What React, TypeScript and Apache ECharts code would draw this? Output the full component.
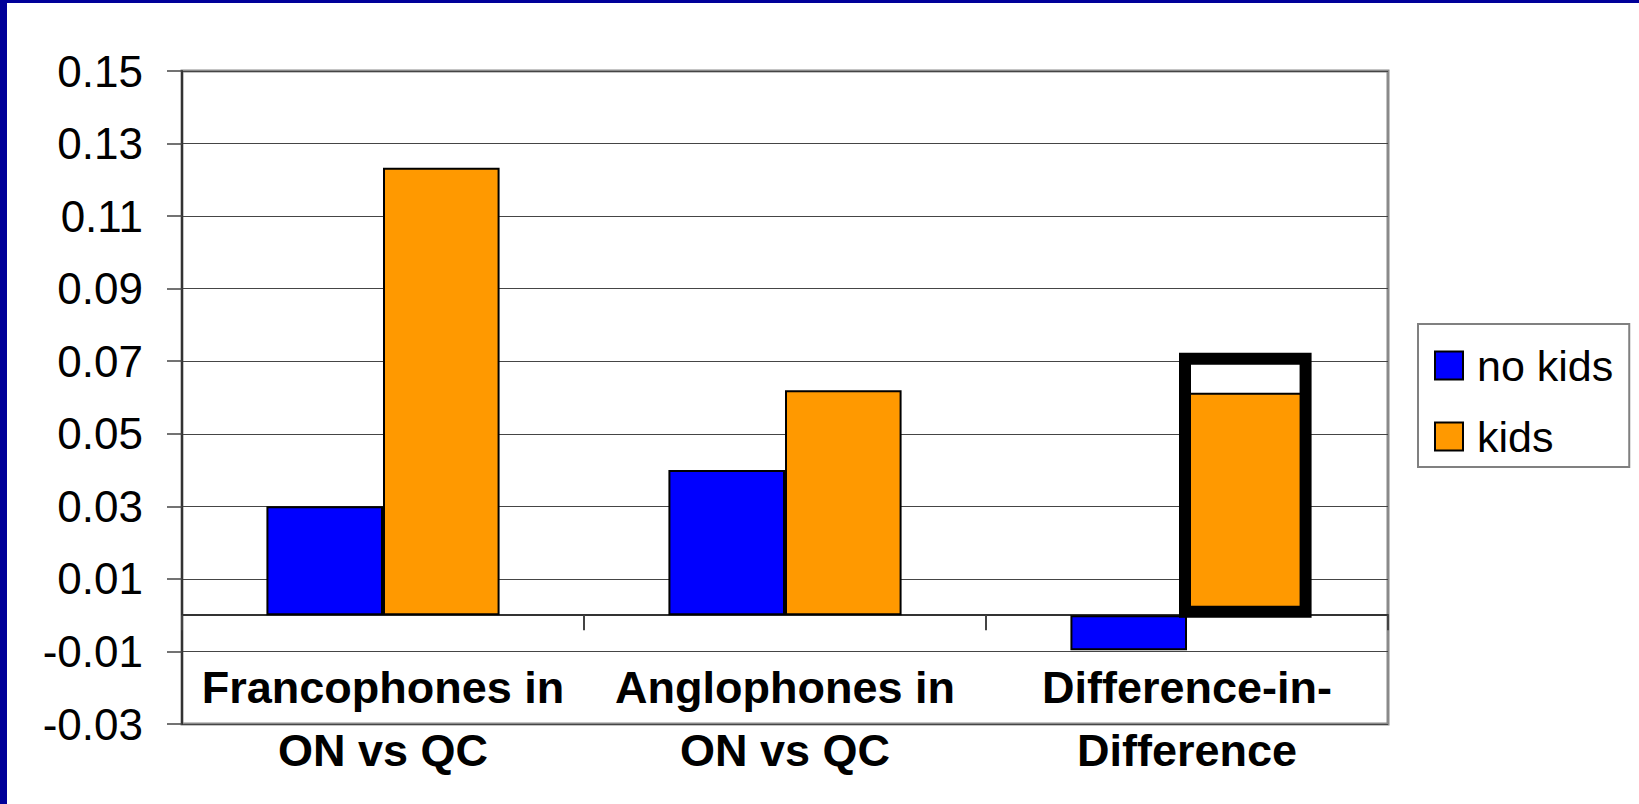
import React, { useEffect, useRef } from "react";
import * as echarts from "echarts";

const categories = ["Francophones in\nON vs QC", "Anglophones in\nON vs QC", "Difference-in-\nDifference"];
const seriesNames = ["no kids", "kids"];
const noKids = [0.03, 0.04, -0.0097];
const kids = [0.1233, 0.062, 0.0613];
// highlight annotation box around the Difference-in-Difference "kids" bar
const highlight = [[2, 0.0707]];
const yMin = -0.03;
const yMax = 0.15;
const yStep = 0.02;

const FONT = "Liberation Sans, Arial, sans-serif";
const GAP = 0.42;

export default function App() {
  const ref = useRef<HTMLDivElement>(null);
  useEffect(() => {
    if (!ref.current) return;
    const chart = echarts.init(ref.current, null, { renderer: "svg" });
    chart.setOption({
      animation: false,
      backgroundColor: "#ffffff",
      textStyle: { fontFamily: FONT },
      grid: {
        left: 182,
        top: 71,
        right: 251,
        bottom: 80,
        containLabel: false,
        outerBoundsMode: "none",
        show: true,
        borderColor: "#8a8a8a",
        borderWidth: 3,
        backgroundColor: "transparent",
      },
      legend: {
        data: seriesNames,
        orient: "vertical",
        left: 1418,
        top: 324,
        width: 211,
        padding: [20, 16, 9, 16],
        itemWidth: 28,
        itemHeight: 28,
        itemGap: 28,
        icon: "rect",
        backgroundColor: "#ffffff",
        borderColor: "#808080",
        borderWidth: 2,
        textStyle: { fontSize: 43, color: "#000", fontFamily: FONT, lineHeight: 43, padding: [0, 0, 0, 9] },
      },
      xAxis: {
        type: "category",
        data: categories,
        axisLine: { onZero: true, lineStyle: { color: "#333", width: 2 } },
        axisTick: { show: true, length: 15, alignWithLabel: false, lineStyle: { color: "#444", width: 2 } },
        axisLabel: {
          interval: 0,
          margin: -68,
          fontSize: 45,
          fontWeight: "bold",
          color: "#000",
          lineHeight: 63,
          fontFamily: FONT,
        },
        splitLine: { show: false },
      },
      yAxis: {
        type: "value",
        min: yMin,
        max: yMax,
        interval: yStep,
        axisLine: { show: true, lineStyle: { color: "#333", width: 2 } },
        axisTick: { show: true, length: 15, lineStyle: { color: "#444", width: 1.5 } },
        axisLabel: {
          margin: 39,
          fontSize: 44,
          color: "#000",
          fontFamily: FONT,
          formatter: (v: number) => v.toFixed(2),
        },
        splitLine: { show: true, lineStyle: { color: "#454545", width: 1.2 } },
      },
      series: [
        {
          name: seriesNames[0],
          type: "bar",
          data: noKids,
          barGap: "0%",
          barCategoryGap: GAP * 100 + "%",
          itemStyle: { color: "#0000FF", borderColor: "#000", borderWidth: 2 },
        },
        {
          name: seriesNames[1],
          type: "bar",
          data: kids,
          barGap: "0%",
          barCategoryGap: GAP * 100 + "%",
          itemStyle: { color: "#FF9900", borderColor: "#000", borderWidth: 2 },
        },
        {
          name: "highlight",
          type: "custom",
          data: highlight,
          z: 10,
          silent: true,
          renderItem: (params: any, api: any) => {
            const top = api.coord([api.value(0), api.value(1)]);
            const base = api.coord([api.value(0), 0]);
            const catW = api.size([1, 0])[0];
            const barW = (catW * (1 - GAP)) / 2;
            const x0 = top[0] - 2;
            const x1 = top[0] + barW + 2;
            const y1 = base[1] - 3.5;
            return {
              type: "rect",
              shape: { x: x0, y: top[1], width: x1 - x0, height: y1 - top[1] },
              style: { fill: "none", stroke: "#000", lineWidth: 12 },
            };
          },
        },
      ],
      graphic: [
        { type: "rect", left: 0, top: 0, shape: { width: 7, height: 804 }, style: { fill: "#000099" }, z: 100 },
        { type: "rect", left: 0, top: 0, shape: { width: 1639, height: 3 }, style: { fill: "#000099" }, z: 100 },
      ],
    });
    return () => chart.dispose();
  }, []);
  return <div ref={ref} style={{ position: "fixed", left: 0, top: 0, width: 1639, height: 804 }} />;
}
